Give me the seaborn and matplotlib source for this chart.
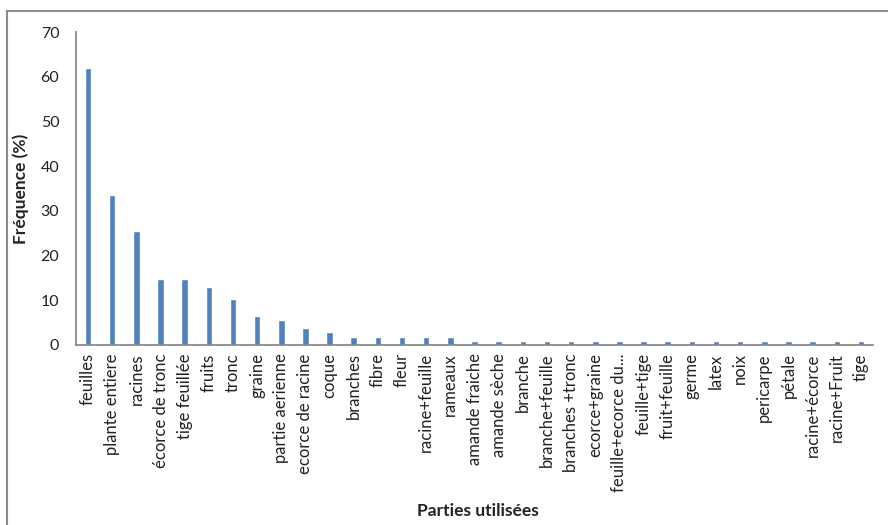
import matplotlib
matplotlib.use("Agg")
import matplotlib.pyplot as plt
import seaborn as sns
import pandas as pd
from matplotlib.patches import Rectangle

parties = [
    "feuilles", "plante entiere", "racines", "écorce de tronc", "tige feuillée",
    "fruits", "tronc", "graine", "partie aerienne", "ecorce de racine", "coque",
    "branches", "fibre", "fleur", "racine+feuille", "rameaux", "amande fraiche",
    "amande sèche", "branche", "branche+feuille", "branches +tronc",
    "ecorce+graine", "feuille+ecorce du...", "feuille+tige", "fruit+feuille",
    "germe", "latex", "noix", "pericarpe", "pétale", "racine+écorce",
    "racine+Fruit", "tige",
]
frequence = [
    62.0, 33.5, 25.4, 14.7, 14.7, 13.0, 10.2, 6.5, 5.6, 3.8, 2.9,
    1.9, 1.9, 1.9, 1.9, 1.9, 0.95,
    0.95, 0.95, 0.95, 0.95,
    0.95, 0.95, 0.95, 0.95,
    0.95, 0.95, 0.95, 0.95, 0.95, 0.95,
    0.95, 0.95,
]
y_ticks = [0, 10, 20, 30, 40, 50, 60, 70]

df = pd.DataFrame({"partie": parties, "freq": frequence})

sns.set_theme(style="white")
plt.rcParams["font.family"] = ["Lato", "DejaVu Sans"]

W, H = 888, 525
fig = plt.figure(figsize=(W / 100, H / 100), dpi=100)
x0, x1, ytop, ybot = 76, 873, 32, 345
ax = fig.add_axes([x0 / W, 1 - ybot / H, (x1 - x0) / W, (ybot - ytop) / H])

sns.barplot(data=df, x="partie", y="freq", color="#4F81BD", width=0.27,
            saturation=1, ax=ax)

ax.set_ylim(0, 70)
ax.set_yticks(y_ticks)
ax.set_xlim(-0.5, len(parties) - 0.5)
ax.tick_params(axis="y", labelsize=11.5, length=5, width=1, color="#868686",
               pad=7, labelcolor="#222222")
ax.tick_params(axis="x", labelsize=12, rotation=90, length=0, pad=6,
               labelcolor="#222222")
for lbl in ax.get_xticklabels():
    lbl.set_ha("center")

ax.set_xlabel("Parties utilisées", fontsize=12.5, fontweight="bold",
              color="#222222")
ax.set_ylabel("Fréquence (%)", fontsize=12.5, fontweight="bold",
              color="#222222", labelpad=8)
ax.xaxis.set_label_coords(0.5 + (478 - (x0 + x1) / 2) / (x1 - x0),
                          -(511 - ybot) / (ybot - ytop))
ax.xaxis.label.set_va("center")

for side in ["top", "right"]:
    ax.spines[side].set_visible(False)
ax.spines["left"].set_color("#868686")
ax.spines["bottom"].set_color("#868686")

# outer chart frame (runs past the right and bottom edges of the canvas)
fig.patches.append(Rectangle((6.5 / W, -10 / H), 900 / W, (H - 11 + 10) / H,
                             transform=fig.transFigure, fill=False,
                             edgecolor="#8c8c8c", linewidth=1.5))

fig.savefig("out.png", dpi=100)
